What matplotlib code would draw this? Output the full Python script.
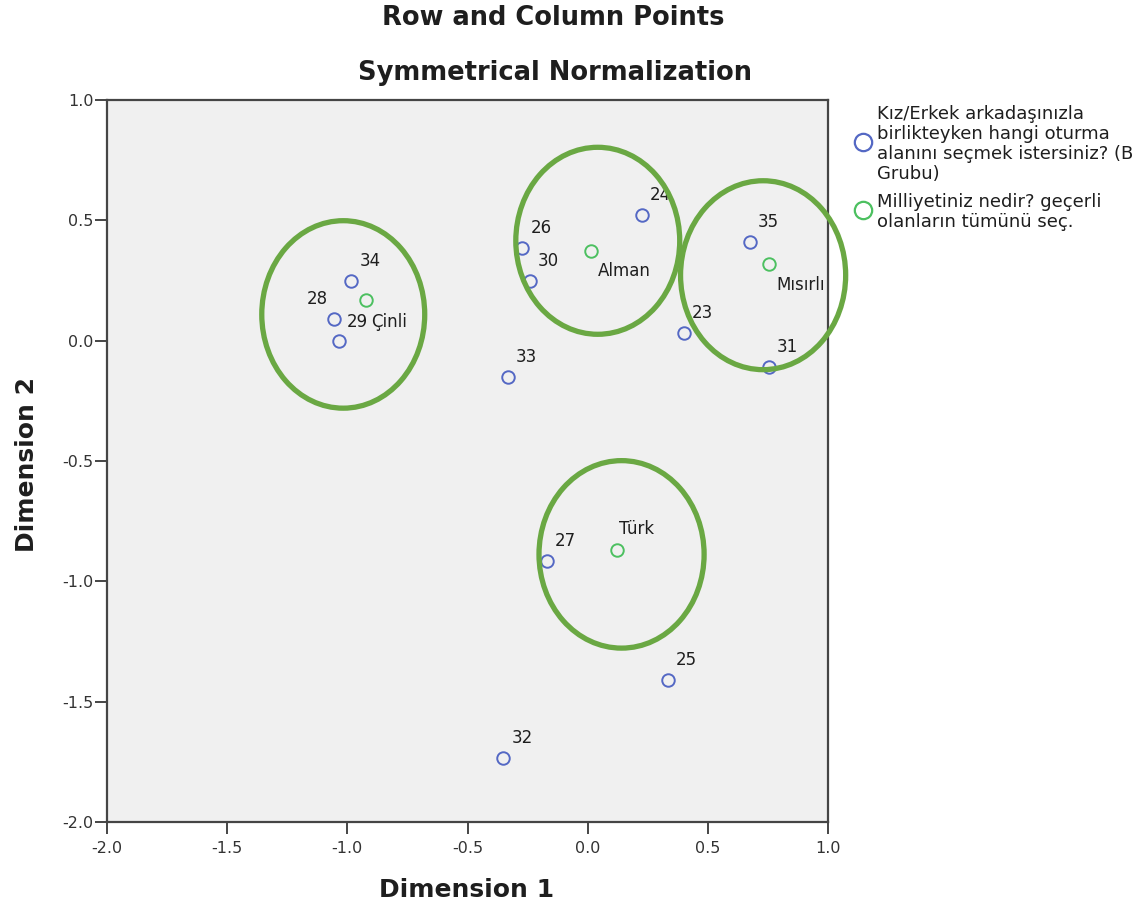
import matplotlib
matplotlib.use("Agg")
import matplotlib.pyplot as plt
from matplotlib.patches import Ellipse
from matplotlib.lines import Line2D

# ---- data ----
row_labels = ["23", "24", "25", "26", "27", "28", "29", "30", "31", "32", "33", "34", "35"]
row_x = [0.401, 0.226, 0.334, -0.272, -0.171, -1.056, -1.035, -0.240, 0.754, -0.351, -0.333, -0.983, 0.674]
row_y = [0.030, 0.523, -1.410, 0.385, -0.914, 0.090, 0.000, 0.246, -0.111, -1.734, -0.150, 0.246, 0.411]

col_labels = ["Alman", "Çinli", "Mısırlı", "Türk"]
col_x = [0.015, -0.924, 0.755, 0.121]
col_y = [0.371, 0.169, 0.320, -0.870]

# highlighted groups (hand-drawn ellipses)
circle_x = [-1.017, 0.042, 0.730, 0.141]
circle_y = [0.109, 0.415, 0.272, -0.888]
circle_w = [0.678, 0.682, 0.687, 0.687]
circle_h = [0.779, 0.777, 0.785, 0.779]

x_ticks = [-2.0, -1.5, -1.0, -0.5, 0.0, 0.5, 1.0]
y_ticks = [-2.0, -1.5, -1.0, -0.5, 0.0, 0.5, 1.0]

legend_row = "Kız/Erkek arkadaşınızla\nbirlikteyken hangi oturma\nalanını seçmek istersiniz? (B\nGrubu)"
legend_col = "Milliyetiniz nedir? geçerli\nolanların tümünü seç."

# label offsets in pixels (dx, dy, ha)
default_off = (8, 20, "left")
label_off = {
    "28": (-6, 20, "right"),
    "29": (8, 19, "left"),
    "Çinli": (6, -22, "left"),
    "Alman": (7, -20, "left"),
    "Mısırlı": (7, -21, "left"),
    "Türk": (2, 21, "left"),
}

plt.rcParams["font.family"] = ["DejaVu Sans"]

BLUE = "#5468c4"
GREEN = "#4cc060"
ELL = "#6aa843"
AXC = "#454545"
TXT = "#1e1e1e"

W, H = 1146, 913
fig = plt.figure(figsize=(W / 100, H / 100), dpi=100)
ax = fig.add_axes([107 / W, 1 - 822 / H, (828 - 107) / W, (822 - 100) / H])
ax.set_facecolor("#f0f0f0")

ax.plot(row_x, row_y, "o", ms=9, mfc="none", mec=BLUE, mew=1.4, zorder=3)
ax.plot(col_x, col_y, "o", ms=9, mfc="none", mec=GREEN, mew=1.4, zorder=3)

for lab, x, y in list(zip(row_labels, row_x, row_y)) + list(zip(col_labels, col_x, col_y)):
    dx, dy, ha = label_off.get(lab, default_off)
    ax.annotate(lab, (x, y), xytext=(dx, dy), textcoords="offset pixels",
                ha=ha, va="center", fontsize=12, color=TXT, zorder=4)

for cx, cy, w, h in zip(circle_x, circle_y, circle_w, circle_h):
    e = Ellipse((cx, cy), w, h, fill=False, ec=ELL, lw=3.8, clip_on=False, zorder=5)
    ax.add_patch(e)

ax.set_xlim(-2.0, 1.0)
ax.set_ylim(-2.0, 1.0)
ax.set_xticks(x_ticks)
ax.set_yticks(y_ticks)
ax.set_xticklabels([f"{t:.1f}" for t in x_ticks])
ax.set_yticklabels([f"{t:.1f}" for t in y_ticks])
ax.tick_params(axis="both", direction="out", length=8.5, width=1.4, color=AXC,
               labelsize=11.5, labelcolor="#333333")
ax.tick_params(axis="x", pad=5)
ax.tick_params(axis="y", pad=1)
for s in ax.spines.values():
    s.set_color(AXC)
    s.set_linewidth(1.6)

fig.text(553 / W, 1 - 18 / H, "Row and Column Points", ha="center", va="center",
         fontsize=18.5, fontweight="bold", color=TXT)
fig.text(555 / W, 1 - 73 / H, "Symmetrical Normalization", ha="center", va="center",
         fontsize=18.5, fontweight="bold", color=TXT)
fig.text(467 / W, 1 - 890 / H, "Dimension 1", ha="center", va="center",
         fontsize=18, fontweight="bold", color=TXT)
fig.text(27 / W, 1 - 464 / H, "Dimension 2", ha="center", va="center", rotation=90,
         fontsize=18, fontweight="bold", color=TXT)

# legend (drawn in figure coordinates)
for txt, col, yc in [(legend_row, BLUE, 142), (legend_col, GREEN, 210)]:
    fig.add_artist(Line2D([863 / W], [1 - yc / H], transform=fig.transFigure, ls="none",
                          marker="o", ms=12.5, mfc="none", mec=col, mew=1.6))
    fig.text(877 / W, 1 - (yc + 2) / H, txt, ha="left", va="center", fontsize=13,
             color=TXT, linespacing=1.14)

fig.savefig("out.png", dpi=100)
